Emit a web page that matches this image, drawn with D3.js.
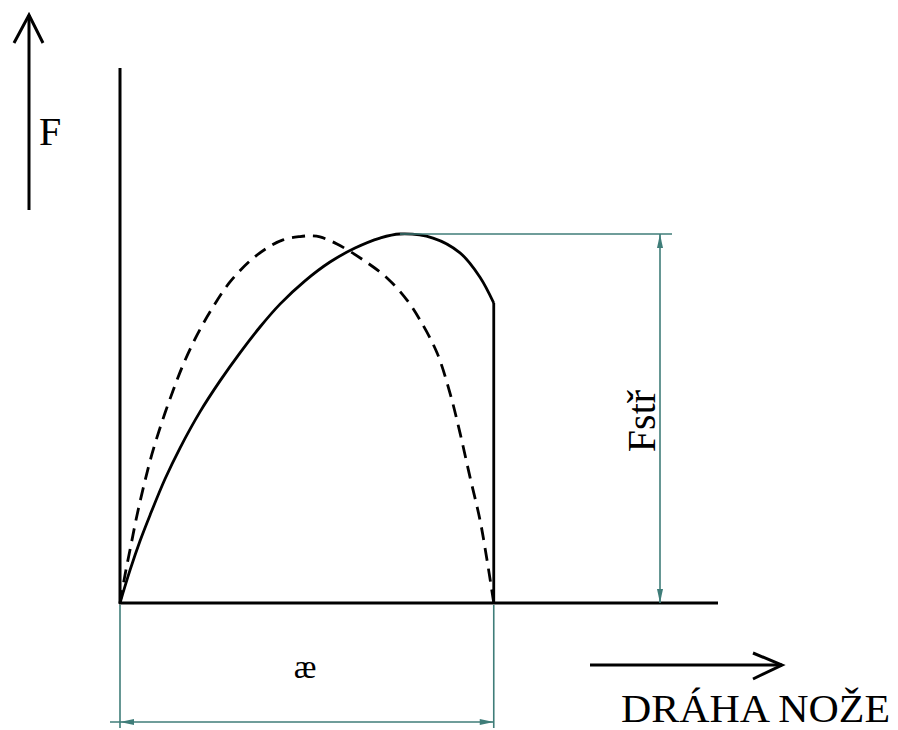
<!DOCTYPE html>
<html><head><meta charset="utf-8">
<script src="https://cdn.jsdelivr.net/npm/d3@7"></script>
<style>html,body{margin:0;padding:0;background:#fff;}svg{display:block;}</style>
</head><body>
<svg id="c" width="898" height="730"></svg>
<script>
// Data: blade path (x, % of zone "ae") vs cutting force (y, % of Fstř)
const solidX = [0, 2.68, 5.35, 8.03, 12.04, 16.05, 21.40, 26.76, 32.11, 37.46, 42.81, 49.50, 56.19, 62.88, 69.57, 74.92, 83.75, 90.97, 96.32, 100];
const solidY = [0, 8.9, 16.8, 23.8, 33.6, 42.0, 51.8, 60.2, 67.8, 74.8, 81.0, 87.3, 92.4, 96.2, 98.9, 100, 98.9, 94.9, 88.3, 81.3];
const dashX = [0, 1.34, 2.94, 4.55, 6.42, 8.56, 11.24, 14.18, 16.86, 20.60, 24.88, 29.43, 34.78, 39.33, 43.61, 48.16, 50.84, 53.51, 58.06, 65.02, 71.44, 76.79, 80.27, 84.82, 88.29, 90.97, 93.65, 96.32, 98.19, 100];
const dashY = [0, 7.6, 15.7, 23.8, 32.0, 40.4, 49.1, 57.5, 64.5, 72.6, 80.2, 87.0, 92.7, 96.2, 98.4, 99.3, 99.5, 99.2, 97.3, 93.0, 88.1, 82.1, 76.7, 67.8, 56.9, 46.1, 34.1, 22.5, 11.7, 0];
const labels = {force: "F", path: "DRÁHA NOŽE", peak: "Fstř", zone: "æ"};

const svg = d3.select("#c");
const x = d3.scaleLinear().domain([0, 160]).range([120, 718]);
const y = d3.scaleLinear().domain([0, 100]).range([603, 234]);
const teal = "#3f7d79";
const serif = "'Liberation Serif', 'DejaVu Serif', serif";

// Axes (plain lines)
svg.append("line").attr("x1", x(0)).attr("x2", x(0)).attr("y1", y(0) + 1).attr("y2", y(145))
  .attr("stroke", "#000").attr("stroke-width", 3);
svg.append("line").attr("x1", x(0) - 1).attr("x2", x(160)).attr("y1", y(0)).attr("y2", y(0))
  .attr("stroke", "#000").attr("stroke-width", 3);

// Curves
const solid = solidX.map((d, i) => [d, solidY[i]]);
const dashed = dashX.map((d, i) => [d, dashY[i]]);
const line = d3.line().x(d => x(d[0])).y(d => y(d[1])).curve(d3.curveCatmullRom.alpha(0.5));
svg.append("path").attr("d", line(solid)).attr("fill", "none").attr("stroke", "#000").attr("stroke-width", 2.8);
svg.append("line").attr("x1", x(100)).attr("x2", x(100)).attr("y1", y(solidY[solidY.length - 1])).attr("y2", y(0))
  .attr("stroke", "#000").attr("stroke-width", 2.8);
svg.append("path").attr("d", line(dashed)).attr("fill", "none").attr("stroke", "#000").attr("stroke-width", 2.8)
  .attr("stroke-dasharray", "13,8");

// Force arrow (top-left)
svg.append("line").attr("x1", 29).attr("x2", 29).attr("y1", 15).attr("y2", 210).attr("stroke", "#000").attr("stroke-width", 3);
svg.append("path").attr("d", "M14,43 L29,15 L43,43").attr("fill", "none").attr("stroke", "#000").attr("stroke-width", 3);
svg.append("text").attr("x", 39).attr("y", 145).attr("font-family", serif).attr("font-size", 40).text(labels.force);

// Path arrow (bottom-right)
svg.append("line").attr("x1", 590).attr("x2", 782).attr("y1", 665).attr("y2", 665).attr("stroke", "#000").attr("stroke-width", 3);
svg.append("path").attr("d", "M753,653 L782,665 L753,679").attr("fill", "none").attr("stroke", "#000").attr("stroke-width", 3);
svg.append("text").attr("x", 621).attr("y", 722).attr("font-family", serif).attr("font-size", 41)
  .attr("textLength", 269).attr("lengthAdjust", "spacingAndGlyphs").text(labels.path);

// Dimension for peak force
const dimX = 660;
svg.append("line").attr("x1", x(74.9)).attr("x2", 672).attr("y1", y(100)).attr("y2", y(100)).attr("stroke", teal).attr("stroke-width", 1.6);
svg.append("line").attr("x1", dimX).attr("x2", dimX).attr("y1", y(100)).attr("y2", y(0)).attr("stroke", teal).attr("stroke-width", 1.6);
svg.append("path").attr("d", `M${dimX - 3},${y(100) + 14} L${dimX},${y(100)} L${dimX + 3},${y(100) + 14} Z`).attr("fill", teal);
svg.append("path").attr("d", `M${dimX - 3},${y(0) - 14} L${dimX},${y(0)} L${dimX + 3},${y(0) - 14} Z`).attr("fill", teal);
svg.append("text").attr("transform", `translate(655,421) rotate(-90)`).attr("text-anchor", "middle")
  .attr("font-family", serif).attr("font-size", 40).text(labels.peak);

// Dimension for zone ae
const dimY = 722;
[0, 100].forEach(v => {
  svg.append("line").attr("x1", x(v)).attr("x2", x(v)).attr("y1", y(0) + 2).attr("y2", 728).attr("stroke", teal).attr("stroke-width", 1.6);
});
svg.append("line").attr("x1", x(0) - 10).attr("x2", x(100)).attr("y1", dimY).attr("y2", dimY).attr("stroke", teal).attr("stroke-width", 1.6);
svg.append("path").attr("d", `M${x(0) + 14},${dimY - 3} L${x(0)},${dimY} L${x(0) + 14},${dimY + 3} Z`).attr("fill", teal);
svg.append("path").attr("d", `M${x(100) - 14},${dimY - 3} L${x(100)},${dimY} L${x(100) - 14},${dimY + 3} Z`).attr("fill", teal);
svg.append("text").attr("x", 305).attr("y", 678).attr("text-anchor", "middle")
  .attr("font-family", serif).attr("font-size", 34).text(labels.zone);
</script>
</body></html>
